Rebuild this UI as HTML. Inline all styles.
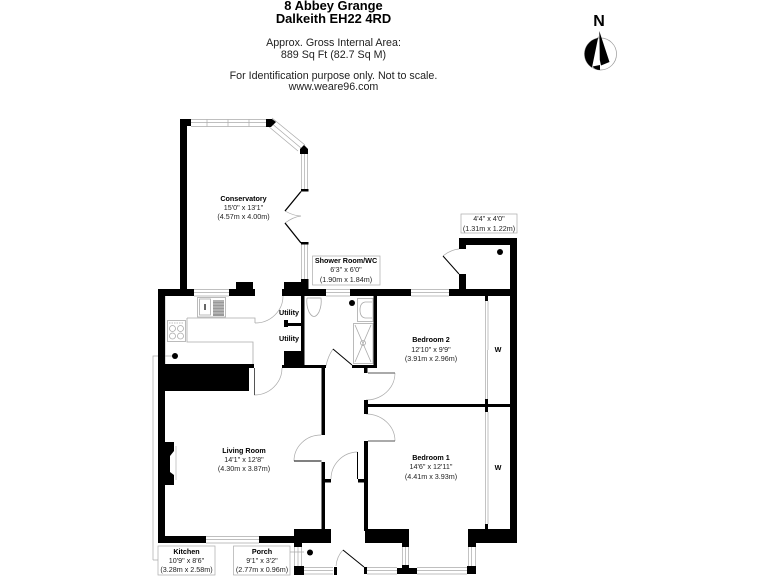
<!DOCTYPE html>
<html><head><meta charset="utf-8"><style>
html,body{margin:0;padding:0;background:#fff}
svg{display:block}
text{font-family:"Liberation Sans",sans-serif;text-anchor:middle;fill:#000}
.t{font-size:12.9px;font-weight:bold}
.h{font-size:10.7px;fill:#222}
.b{font-size:7.2px;font-weight:bold}
.l{font-size:7.2px;fill:#222}
</style></head><body>
<svg width="768" height="576" viewBox="0 0 768 576" xmlns="http://www.w3.org/2000/svg">
<rect width="768" height="576" fill="#fff"/>
<text class="t" x="333.500" y="10">8 Abbey Grange</text>
<text class="t" x="333.500" y="23">Dalkeith EH22 4RD</text>
<text class="h" x="333.500" y="46">Approx. Gross Internal Area:</text>
<text class="h" x="333.500" y="58">889 Sq Ft (82.7 Sq M)</text>
<text class="h" x="333.500" y="79">For Identification purpose only. Not to scale.</text>
<text class="h" x="333.500" y="90">www.weare96.com</text>
<text x="599" y="26" style="font-size:16px;font-weight:bold">N</text>
<circle cx="600.500" cy="54" r="16" fill="#fff" stroke="#999" stroke-width="0.7"/>
<path d="M597.500 38.300A16 16 0 0 0 592 67.500L598.500 36Z" fill="#000"/>
<path d="M599.300 31L609.500 62L601 65.500L599.800 60Z" fill="#000"/>
<path d="M592.500 66.500L600 65V70Q595 70 592.500 66.500Z" fill="#000"/>
<g fill="none" stroke="#aaa" stroke-width="0.7">
<path d="M191 119.500H266M191 122.500H266M191 126.500H266M207 119.500V126.500M228 119.500V126.500M249 119.500V126.500"/>
<path d="M272 118L305 145M270 122L301 148M268 126L298 151"/>
<path d="M301.500 154V190M304.500 154V190M307.500 154V190M301.500 244V280M304.500 244V280M307.500 244V280"/>
<path d="M194 289.500H229M194 292.500H229M194 296H229M326 289.500H350M326 292.500H350M326 296H350M411 289.500H449M411 292.500H449M411 296H449"/>
<path d="M206 536.500H259M206 539.500H259M206 543H259"/>
<path d="M294.500 547V566M298 547V566M301.500 547V566M304 567.500H333M304 570.500H333M304 574H333"/>
<path d="M367 567.500H397M367 570.500H397M367 574H397M417 567.500H467M417 570.500H467M417 574H467"/>
<path d="M402.500 547V566M405.500 547V566M408.500 547V566M468.500 547V566M471.500 547V566M475.500 547V566"/>
<path d="M485.500 301V350M488 301V350M485.500 350V399M487.500 350V399M485.500 412V524M488 412V524"/>
<path d="M285 211Q294 216 301 216Q293 217 285 223"/>
<path d="M153 560V356H175M153 560H158M290 552H304"/>
<path d="M255 323A28 27 0 0 0 283 296M254 395A28 27 0 0 0 282 368M283 296V289"/>
<path d="M395 373A29 27 0 0 1 366 400M395 441A29 27 0 0 0 366 414M294 461A27 26 0 0 1 321 435M331 479A27 27 0 0 1 357.500 452"/>
<path d="M333 349Q328 356 326 366M443 256Q450 250 459 249M343 550Q337 556 336 566"/>
</g>
<g fill="none" stroke="#aaa" stroke-width="0.8">
<path d="M165 296V365M187 318H255V323M187 318V342H253V364"/>
<rect x="197.500" y="297.500" width="28" height="19.500"/>
<rect x="199.500" y="299" width="11" height="16"/>
<rect x="167.500" y="320.500" width="18" height="21"/>
<circle cx="172.500" cy="328.500" r="3"/><circle cx="180.500" cy="328.500" r="3"/><circle cx="172.500" cy="336" r="3"/><circle cx="180.500" cy="336" r="3"/>
<path d="M169 323H184" stroke-dasharray="1.500 1"/>
<path d="M310 298H320"/>
<path d="M307 298Q306 305 309 312Q314 321 319 312Q322 305 321 298H307"/>
<rect x="357.500" y="298.500" width="15.500" height="23"/>
<path d="M372 302H365Q360 303 360 310Q360 317 365 318H372"/>
<rect x="353.500" y="323.500" width="19.500" height="40"/>
<path d="M355 325L371 362M371 325L355 362"/>
<circle cx="363" cy="343" r="2.500"/>
</g>
<rect x="213" y="300" width="11" height="16" fill="#999"/>
<path d="M213 301H224M213 304H224M213 307H224M213 310H224M213 313H224" stroke="#ddd" stroke-width="0.8"/>
<rect x="204" y="304" width="2" height="6" fill="#666"/>
<g fill="#000">
<rect x="180" y="119" width="7" height="171"/>
<rect x="180" y="119" width="11" height="7"/>
<path d="M266 119H272L276 122L271 127H266Z"/>
<path d="M300 149L304 145L308 149V154H300Z"/>
<rect x="301" y="189" width="7.500" height="2.500"/>
<rect x="301" y="242" width="7.500" height="2.500"/>
<rect x="158" y="289" width="36" height="7"/>
<rect x="229" y="289" width="26" height="7"/>
<rect x="236" y="282" width="17" height="8"/>
<rect x="282" y="289" width="44" height="7"/>
<rect x="284" y="282" width="17" height="8"/>
<rect x="301" y="279" width="7.500" height="11"/>
<rect x="350" y="289" width="61" height="7"/>
<rect x="449" y="289" width="68" height="7"/>
<rect x="459" y="274" width="7" height="16"/>
<rect x="459" y="238" width="58" height="7"/>
<rect x="459" y="238" width="7" height="11"/>
<rect x="510" y="238" width="7" height="305"/>
<rect x="158" y="289" width="7" height="254"/>
<rect x="158" y="365" width="91" height="26"/>
<rect x="158" y="364" width="96" height="4"/>
<rect x="158" y="536" width="48" height="7"/>
<rect x="259" y="536" width="35" height="7"/>
<rect x="294" y="529" width="37" height="14"/>
<rect x="294" y="543" width="8" height="4"/>
<rect x="294" y="566" width="10" height="9"/>
<rect x="334" y="567" width="3" height="8"/>
<rect x="321.500" y="367" width="3.500" height="68"/>
<rect x="321.500" y="462" width="3.500" height="68"/>
<rect x="325" y="479" width="6" height="3.500"/>
<rect x="358" y="479" width="6" height="3.500"/>
<rect x="364" y="441" width="4" height="90"/>
<rect x="364" y="400" width="4" height="14"/>
<rect x="364" y="404" width="146" height="3"/>
<rect x="364" y="365" width="13" height="3"/>
<rect x="364" y="365" width="3.500" height="8"/>
<rect x="301" y="296" width="3.500" height="72"/>
<rect x="373.500" y="296" width="3.500" height="72"/>
<rect x="282" y="365" width="44" height="3"/>
<rect x="352" y="365" width="15" height="3"/>
<rect x="284" y="351" width="17" height="14"/>
<rect x="284" y="323" width="17" height="3"/>
<rect x="284" y="320" width="4" height="7"/>
<rect x="485" y="296" width="3" height="5"/>
<rect x="485" y="399" width="3" height="13"/>
<rect x="485" y="524" width="3" height="5"/>
<rect x="468" y="529" width="49" height="14"/>
<rect x="468" y="543" width="8" height="4"/>
<rect x="365" y="529" width="44" height="14"/>
<rect x="402" y="543" width="7" height="4"/>
<rect x="467" y="566" width="9" height="8"/>
<path d="M397 568H402V565H409V568H417V574H397Z"/>
<rect x="364" y="567" width="3" height="7"/>
<path d="M165 442H174V451L170 456V472L174 475V485H165Z"/>
<circle cx="175" cy="356" r="3"/><circle cx="352" cy="303" r="3"/><circle cx="500" cy="252" r="3"/><circle cx="310" cy="552.500" r="3"/>
</g>
<path d="M176 446V480" stroke="#bbb" stroke-width="0.8" fill="none"/>
<g fill="none" stroke="#000">
<path d="M301 191.500L285 211M285 223L301 243" stroke-width="1.300"/>
<path d="M333 349L352 365M443 256L459 274M364 567L343 550" stroke-width="1"/>
<path d="M294 461H321.500M357.500 452V479" stroke-width="1"/>
<path d="M254.500 368V395M368 373H395M368 441H395" stroke="#555" stroke-width="1"/>
</g>
<g fill="#fff" stroke="#aaa" stroke-width="0.7">
<rect x="312.500" y="256" width="67.500" height="29"/>
<rect x="461" y="214" width="56" height="19"/>
<rect x="158" y="546" width="57" height="29"/>
<rect x="233.500" y="546" width="56.500" height="29"/>
</g>
<text class="b" x="243.500" y="201">Conservatory</text><text class="l" x="243.500" y="210">15'0" x 13'1"</text><text class="l" x="243.500" y="219">(4.57m x 4.00m)</text>
<text class="b" x="346" y="263">Shower Room/WC</text><text class="l" x="346" y="272">6'3" x 6'0"</text><text class="l" x="346" y="282">(1.90m x 1.84m)</text>
<text class="l" x="489" y="221">4'4" x 4'0"</text><text class="l" x="489" y="231">(1.31m x 1.22m)</text>
<text class="b" x="431" y="342">Bedroom 2</text><text class="l" x="431" y="352">12'10" x 9'9"</text><text class="l" x="431" y="361">(3.91m x 2.96m)</text>
<text class="b" x="431" y="460">Bedroom 1</text><text class="l" x="431" y="469">14'6" x 12'11"</text><text class="l" x="431" y="479">(4.41m x 3.93m)</text>
<text class="b" x="244" y="453">Living Room</text><text class="l" x="244" y="462">14'1" x 12'8"</text><text class="l" x="244" y="471">(4.30m x 3.87m)</text>
<text class="b" x="186.500" y="554">Kitchen</text><text class="l" x="186.500" y="563">10'9" x 8'6"</text><text class="l" x="186.500" y="572">(3.28m x 2.58m)</text>
<text class="b" x="262" y="554">Porch</text><text class="l" x="262" y="563">9'1" x 3'2"</text><text class="l" x="262" y="572">(2.77m x 0.96m)</text>
<text class="b" x="289" y="315">Utility</text><text class="b" x="289" y="341">Utility</text>
<text class="b" x="498" y="352">W</text><text class="b" x="498" y="470">W</text>
</svg>
</body></html>
